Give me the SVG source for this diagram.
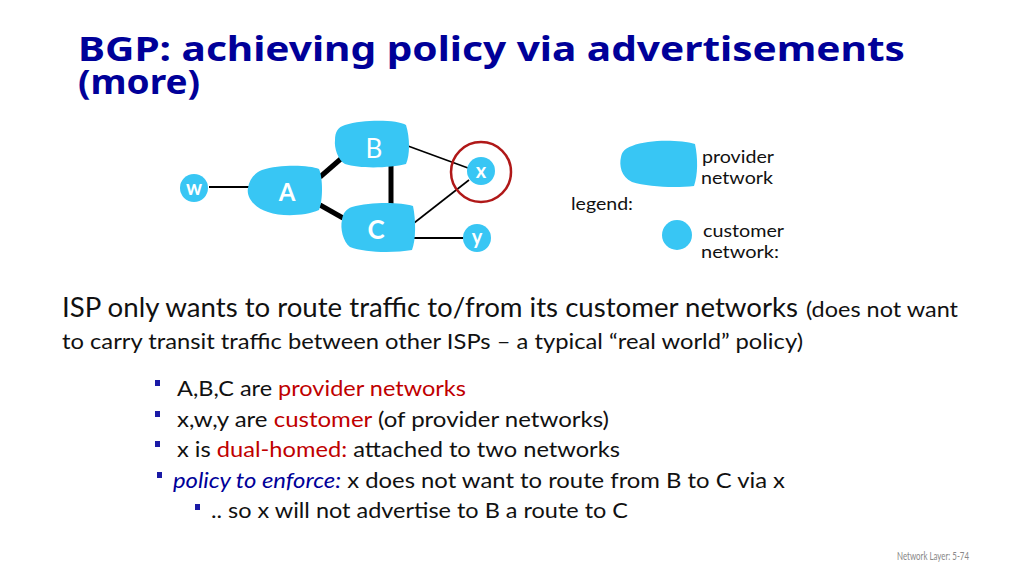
<svg xmlns="http://www.w3.org/2000/svg" width="1024" height="575" viewBox="0 0 1024 575">
<style>
.title{font-family:"Noto Sans","Open Sans",sans-serif;font-weight:bold;font-size:34px;fill:#000099}
.body{font-family:Lato,"Liberation Sans",sans-serif;fill:#111}
.red{fill:#c00000}
.blue{fill:#000099;font-style:italic}
.net{fill:#38c6f4}
.lbl{font-family:Lato,"Liberation Sans",sans-serif;fill:#fff;text-anchor:middle}
.thick{stroke:#000;stroke-width:5;fill:none}
.thin{stroke:#000;stroke-width:1.6;fill:none}
.med{stroke:#000;stroke-width:2.2;fill:none}
.bullet{fill:#1a1aa6}
.leg{font-family:Lato,"Liberation Sans",sans-serif;font-size:18px;fill:#111}
</style>
<rect width="1024" height="575" fill="#fff"/>
<text class="title" x="78" y="61" textLength="827" lengthAdjust="spacingAndGlyphs">BGP: achieving policy via advertisements</text>
<text class="title" x="78" y="94" textLength="122" lengthAdjust="spacingAndGlyphs">(more)</text>

<g id="connectors">
<line class="med" x1="209" y1="187" x2="249" y2="187"/>
<line class="thick" x1="320" y1="177" x2="343" y2="157"/>
<line class="thick" x1="320" y1="205" x2="343" y2="218"/>
<line class="thick" x1="391" y1="166" x2="391" y2="206"/>
<line class="thin" x1="408" y1="146" x2="468" y2="168"/>
<line class="thin" x1="414" y1="223" x2="469" y2="180"/>
<line class="med" x1="414" y1="238" x2="464" y2="238"/>
</g>

<g id="node-w"><circle class="net" cx="194" cy="188" r="14"/><text class="lbl" x="194" y="195" font-size="20" font-weight="bold">w</text></g>
<g id="node-A"><path class="net" d="M262,170 C280,164 310,165 319,169 C323,178 323,200 319,210 C305,216 282,217 268,212 C255,208 246,198 248,188 C249,180 254,173 262,170 Z"/><text class="lbl" x="287" y="201" font-size="24" font-weight="bold">A</text></g>
<g id="node-B"><path class="net" d="M345,125 C365,119 398,120 406,125 C410,138 410,155 406,164 C390,168 360,169 345,164 C338,160 334,148 335,140 C335,132 338,127 345,125 Z"/><text class="lbl" x="374" y="158" font-size="26">B</text></g>
<g id="node-C"><path class="net" d="M352,207 C370,202 400,202 413,206 C416,220 416,240 412,250 C395,253 365,253 350,247 C343,242 340,228 342,220 C343,213 346,209 352,207 Z"/><text class="lbl" x="376" y="239" font-size="26" font-weight="bold">C</text></g>
<g id="node-x"><circle class="net" cx="481" cy="171" r="14"/><circle cx="481" cy="172" r="30" fill="none" stroke="#b01818" stroke-width="2.5"/><text class="lbl" x="481" y="178" font-size="20" font-weight="bold">x</text></g>
<g id="node-y"><circle class="net" cx="477" cy="238" r="14"/><text class="lbl" x="477" y="244" font-size="20" font-weight="bold">y</text></g>

<g id="legend">
<path class="net" d="M632,146 C650,139 680,140 695,144 C698,158 698,175 694,186 C675,188 648,187 632,182 C621,177 619,165 621,157 C622,151 626,148 632,146 Z"/>
<text class="leg" x="702" y="163" textLength="72" lengthAdjust="spacingAndGlyphs">provider</text>
<text class="leg" x="701" y="184" textLength="72" lengthAdjust="spacingAndGlyphs">network</text>
<text class="leg" x="571" y="210" textLength="62" lengthAdjust="spacingAndGlyphs">legend:</text>
<circle class="net" cx="677" cy="235" r="15"/>
<text class="leg" x="703" y="237" textLength="81" lengthAdjust="spacingAndGlyphs">customer</text>
<text class="leg" x="701" y="258" textLength="78" lengthAdjust="spacingAndGlyphs">network:</text>
</g>

<text class="body" x="62" y="317" font-size="26" textLength="736" lengthAdjust="spacingAndGlyphs">ISP only wants to route traffic to/from its customer networks</text>
<text class="body" x="806" y="317" font-size="22" textLength="152" lengthAdjust="spacingAndGlyphs">(does not want</text>
<text class="body" x="62" y="349" font-size="22" textLength="741" lengthAdjust="spacingAndGlyphs">to carry transit traffic between other ISPs – a typical “real world” policy)</text>

<rect class="bullet" x="155" y="380" width="5" height="6"/>
<text class="body" x="177" y="396" font-size="22" textLength="289" lengthAdjust="spacingAndGlyphs">A,B,C are <tspan class="red">provider networks</tspan></text>
<rect class="bullet" x="155" y="411" width="5" height="6"/>
<text class="body" x="177" y="426.5" font-size="22" textLength="432" lengthAdjust="spacingAndGlyphs">x,w,y are <tspan class="red">customer</tspan> (of provider networks)</text>
<rect class="bullet" x="155" y="441" width="5" height="6"/>
<text class="body" x="177" y="457" font-size="22" textLength="443" lengthAdjust="spacingAndGlyphs">x is <tspan class="red">dual-homed:</tspan> attached to two networks</text>
<rect class="bullet" x="157" y="472" width="5" height="6"/>
<text class="body" x="173" y="487.5" font-size="22" textLength="612" lengthAdjust="spacingAndGlyphs"><tspan class="blue">policy to enforce:</tspan> x does not want to route from B to C via x</text>
<rect class="bullet" x="195" y="504" width="5" height="6"/>
<text class="body" x="211" y="518" font-size="22" textLength="417" lengthAdjust="spacingAndGlyphs">.. so x will not advertise to B a route to C</text>

<text x="897" y="560" font-family="Lato,'Liberation Sans',sans-serif" font-size="10.5" fill="#888" textLength="72" lengthAdjust="spacingAndGlyphs">Network Layer: 5-74</text>
</svg>
